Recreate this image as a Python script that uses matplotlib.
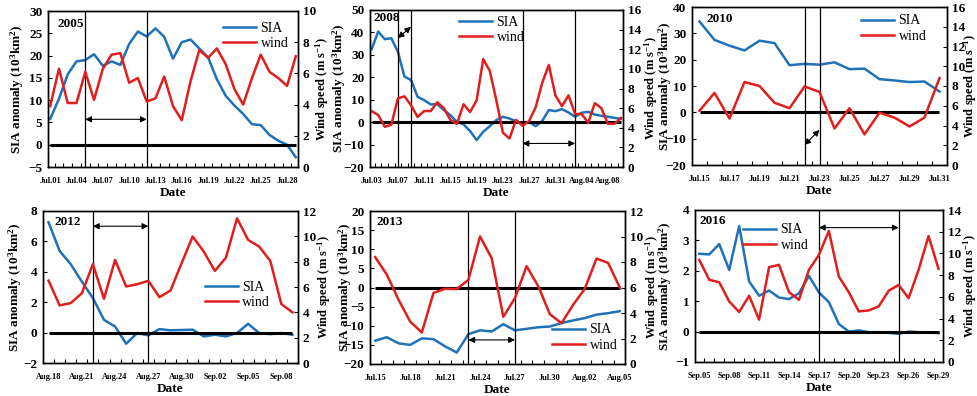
import numpy as np
import matplotlib
matplotlib.use('Agg')
import matplotlib.pyplot as plt

plt.rcParams['font.family'] = 'Liberation Serif'
plt.rcParams['mathtext.fontset'] = 'custom'
plt.rcParams['mathtext.rm'] = 'Liberation Serif:bold'
plt.rcParams['mathtext.bf'] = 'Liberation Serif:bold'
plt.rcParams['mathtext.default'] = 'bf'

BLUE = '#1f72b8'
RED = '#e01e1e'

# ---- data (daily values) ----
sia_2005 = [5.8, 10.3, 15.8, 18.7, 19.0, 20.3, 17.7, 18.7, 17.9, 22.6, 25.4, 24.3, 26.1, 24.2, 19.3,
            23.0, 23.6, 21.6, 19.6, 14.7, 11.0, 8.8, 6.9, 4.6, 4.4, 2.2, 0.9, 0.0, -2.8]
wind_2005 = [3.9, 6.3, 4.1, 4.1, 6.1, 4.3, 6.3, 7.2, 7.3, 5.4, 5.7, 4.2, 4.4, 5.8, 3.9,
             3.0, 5.5, 7.5, 7.0, 7.6, 6.6, 5.0, 4.0, 5.7, 7.2, 6.1, 5.7, 5.2, 7.1]
ticks_2005 = ['Jul.01', 'Jul.04', 'Jul.07', 'Jul.10', 'Jul.13', 'Jul.16', 'Jul.19', 'Jul.22', 'Jul.25', 'Jul.28']

sia_2008 = [32.5, 40.4, 37.0, 37.4, 31.4, 20.3, 18.8, 11.3, 9.8, 7.9, 8.0, 5.4, 3.1, 0.1, -1.0, -4.0,
            -8.0, -4.3, -1.8, 0.9, 2.4, 1.6, 0.4, -0.6, 0.1, -1.8, 0.6, 5.4, 4.9, 5.8, 4.3, 2.4,
            4.2, 4.6, 3.4, 2.8, 2.4, 1.9, 1.5]
wind_2008 = [5.7, 5.3, 4.1, 4.3, 7.0, 7.2, 6.3, 5.1, 5.7, 5.7, 6.6, 6.0, 4.8, 4.4, 6.4, 5.6,
             6.8, 11.0, 9.8, 6.8, 3.5, 2.9, 4.8, 4.2, 4.7, 6.1, 8.6, 10.4, 7.3, 6.2, 7.3, 5.4,
             5.4, 4.5, 6.5, 6.0, 4.4, 4.4, 5.0]
ticks_2008 = ['Jul.03', 'Jul.07', 'Jul.11', 'Jul.15', 'Jul.19', 'Jul.23', 'Jul.27', 'Jul.31', 'Aug.04', 'Aug.08']

sia_2010 = [34.5, 27.5, 25.3, 23.5, 27.2, 26.3, 17.9, 18.4, 18.1, 19.0, 16.4, 16.6, 12.6, 12.1, 11.5, 11.7, 7.9]
wind_2010 = [5.5, 7.3, 4.7, 8.4, 8.0, 6.3, 5.75, 7.95, 7.4, 3.7, 5.75, 3.1, 5.3, 4.8, 3.9, 4.8, 8.8]
ticks_2010 = ['Jul.15', 'Jul.17', 'Jul.19', 'Jul.21', 'Jul.23', 'Jul.25', 'Jul.27', 'Jul.29', 'Jul.31']

sia_2012 = [7.26, 5.37, 4.5, 3.36, 2.27, 0.84, 0.4, -0.73, -0.03, -0.18, 0.23, 0.15, 0.17, 0.19,
            -0.25, -0.14, -0.25, -0.03, 0.58, -0.03, -0.1, -0.03, -0.14]
wind_2012 = [6.5, 4.55, 4.73, 5.5, 7.8, 5.07, 8.14, 6.04, 6.22, 6.49, 5.2, 5.72, 7.88, 9.98,
             8.8, 7.27, 8.32, 11.42, 9.72, 9.19, 8.06, 4.65, 4.0]
ticks_2012 = ['Aug.18', 'Aug.21', 'Aug.24', 'Aug.27', 'Aug.30', 'Sep.02', 'Sep.05', 'Sep.08']

sia_2013 = [-13.9, -13.0, -14.6, -15.0, -13.3, -13.5, -15.4, -17.0, -12.2, -11.2, -11.5, -9.6,
            -11.2, -10.8, -10.4, -10.2, -9.3, -8.6, -8.0, -7.1, -6.7, -6.2]
wind_2013 = [8.38, 7.0, 5.04, 3.33, 2.47, 5.57, 5.9, 5.88, 6.6, 10.0, 8.3, 3.7, 5.17, 7.67,
             6.1, 3.9, 3.2, 4.65, 5.9, 8.27, 7.93, 6.0]
ticks_2013 = ['Jul.15', 'Jul.18', 'Jul.21', 'Jul.24', 'Jul.27', 'Jul.30', 'Aug.02', 'Aug.05']

sia_2016 = [2.56, 2.54, 2.88, 2.03, 3.47, 1.65, 1.18, 1.35, 1.12, 1.07, 1.26, 1.83, 1.29, 0.97,
            0.25, 0.0, 0.04, -0.02, -0.02, -0.04, -0.07, 0.0, -0.02, -0.03, -0.05]
wind_2016 = [9.4, 7.57, 7.35, 5.58, 4.6, 6.1, 3.9, 8.73, 8.95, 6.43, 5.73, 8.49, 9.86, 12.07,
             7.87, 6.43, 4.66, 4.75, 5.12, 6.56, 7.1, 5.88, 8.49, 11.6, 8.58]
ticks_2016 = ['Sep.05', 'Sep.08', 'Sep.11', 'Sep.14', 'Sep.17', 'Sep.20', 'Sep.23', 'Sep.26', 'Sep.29']

# vertical event lines (day index) and arrows (x0, y0, x1, y1 in SIA units)
lines_2005 = [4, 11]
lines_2008 = [4, 6, 23, 31]
lines_2010 = [7, 8]
lines_2012 = [4, 9]
lines_2013 = [8, 12]
lines_2016 = [12, 20]
arrows_2005 = [(4, 5.7, 11, 5.7)]
arrows_2008 = [(4, 37.5, 6, 42.5), (23, -9.5, 31, -9.5)]
arrows_2010 = [(7, -12.4, 8, -6.7)]
arrows_2012 = [(4, 7.0, 9, 7.0)]
arrows_2013 = [(8, -13.7, 12, -13.7)]
arrows_2016 = [(12, 3.42, 20, 3.42)]

panels = [
    dict(year='2005', sia=sia_2005, wind=wind_2005, ticks=ticks_2005, step=3, lines=lines_2005,
         arrows=arrows_2005, yl=(-5, 30, 5), yr=(0, 10, 2), box=(48, 11, 298, 167), xm=(0.25, 0.25),
         ypos=(0.04, 0.955), leg=(0.70, 0.84), lab=(-31, 24)),
    dict(year='2008', sia=sia_2008, wind=wind_2008, ticks=ticks_2008, step=4, lines=lines_2008,
         arrows=arrows_2008, yl=(-20, 50, 10), yr=(0, 16, 2), box=(370, 10, 623, 167), xm=(0.25, 0.3),
         ypos=(0.012, 0.99), leg=(0.352, 0.873), lab=(-31, 28)),
    dict(year='2010', sia=sia_2010, wind=wind_2010, ticks=ticks_2010, step=2, lines=lines_2010,
         arrows=arrows_2010, yl=(-20, 40, 10), yr=(0, 16, 2), box=(692, 7, 947, 165), xm=(0.5, 0.5),
         ypos=(0.055, 0.965), leg=(0.663, 0.864), lab=(-27, 23)),
    dict(year='2012', sia=sia_2012, wind=wind_2012, ticks=ticks_2012, step=3, lines=lines_2012,
         arrows=arrows_2012, yl=(-2, 8, 2), yr=(0, 12, 2), box=(43, 211, 298, 363), xm=(0.5, 0.5),
         ypos=(0.047, 0.965), leg=(0.635, 0.447), lab=(-28, 26)),
    dict(year='2013', sia=sia_2013, wind=wind_2013, ticks=ticks_2013, step=3, lines=lines_2013,
         arrows=arrows_2013, yl=(-20, 20, 5), yr=(0, 12, 2), box=(370, 211, 625, 364), xm=(0.45, 0.45),
         ypos=(0.027, 0.97), leg=(0.714, 0.173), lab=(-25, 27)),
    dict(year='2016', sia=sia_2016, wind=wind_2016, ticks=ticks_2016, step=3, lines=lines_2016,
         arrows=arrows_2016, yl=(-1, 4, 1), yr=(0, 14, 2), box=(695, 210, 943, 362), xm=(0.43, 0.45),
         ypos=(0.02, 0.965), leg=(0.194, 0.819), lab=(-30, 27)),
]

W, H = 977, 396
fig = plt.figure(figsize=(W / 100, H / 100), dpi=100)

for p in panels:
    l, t, r, b = p['box']
    ax = fig.add_axes([l / W, 1 - b / H, (r - l) / W, (b - t) / H])
    ax2 = ax.twinx()
    n = len(p['sia'])
    x = np.arange(n)

    ax.hlines(0, 0, n - 1, color='black', lw=2.2, zorder=3)
    ax.plot(x, p['sia'], color=BLUE, lw=1.8, label='SIA', zorder=2)
    ax2.plot(x, p['wind'], color=RED, lw=1.8, label='wind')
    for d in p['lines']:
        ax.axvline(d, color='black', lw=0.9, zorder=4)
    for x0, y0, x1, y1 in p['arrows']:
        ax.annotate('', xy=(x1, y1), xytext=(x0, y0),
                    arrowprops=dict(arrowstyle='<|-|>', color='black', lw=0.8,
                                    mutation_scale=9, shrinkA=0, shrinkB=0), zorder=5)

    ax.set_xlim(-p['xm'][0], n - 1 + p['xm'][1])
    lo, hi, st = p['yl']
    ax.set_ylim(lo, hi)
    ax.set_yticks(np.arange(lo, hi + st / 2, st))
    lo2, hi2, st2 = p['yr']
    ax2.set_ylim(lo2, hi2)
    ax2.set_yticks(np.arange(lo2, hi2 + st2 / 2, st2))

    ax.set_xticks(np.arange(len(p['ticks'])) * p['step'])
    ax.set_xticklabels(p['ticks'])
    ax.set_xticks(np.arange(n - 1) + 0.5, minor=True)
    ax.tick_params(axis='x', which='major', length=0, pad=7, labelsize=6)
    ax.tick_params(axis='x', which='minor', length=3, direction='in', width=0.8)
    ax.tick_params(axis='y', length=3, direction='in', width=0.8, pad=4, labelsize=9.5)
    ax2.tick_params(axis='y', length=3, direction='in', width=0.8, pad=3.5, labelsize=9.5)
    for lab in ax.get_xticklabels() + ax.get_yticklabels() + ax2.get_yticklabels():
        lab.set_fontweight('bold')

    for a in (ax, ax2):
        for s in a.spines.values():
            s.set_linewidth(1.0)

    ax.set_xlabel('Date', fontsize=9.5, fontweight='bold')
    ax.xaxis.set_label_coords(0.5, -26 / (b - t), transform=ax.transAxes)
    ax.xaxis.label.set_va('center')
    ax.set_ylabel(r'SIA anomaly (10$^{3}$km$^{2}$)', fontsize=9.5, fontweight='bold')
    ax.yaxis.set_label_coords(p['lab'][0] / (r - l), 0.5)
    ax.yaxis.label.set_va('center')
    ax2.set_ylabel(r'Wind speed (m s$^{-1}$)', fontsize=9, fontweight='bold')
    ax2.yaxis.set_label_coords(1 + p['lab'][1] / (r - l), 0.5)
    ax2.yaxis.label.set_va('center')

    ax.text(p['ypos'][0], p['ypos'][1], p['year'], transform=ax.transAxes,
            fontsize=9.5, fontweight='bold', va='top', ha='left', zorder=6)

    h1, l1 = ax.get_legend_handles_labels()
    h2, l2 = ax2.get_legend_handles_labels()
    ax2.legend(h1 + h2, l1 + l2, loc='center left', bbox_to_anchor=p['leg'],
               frameon=False, fontsize=10, handlelength=2.4, handletextpad=0.3,
               labelspacing=0.15, borderpad=0, borderaxespad=0)

fig.savefig('out.png', dpi=100)
